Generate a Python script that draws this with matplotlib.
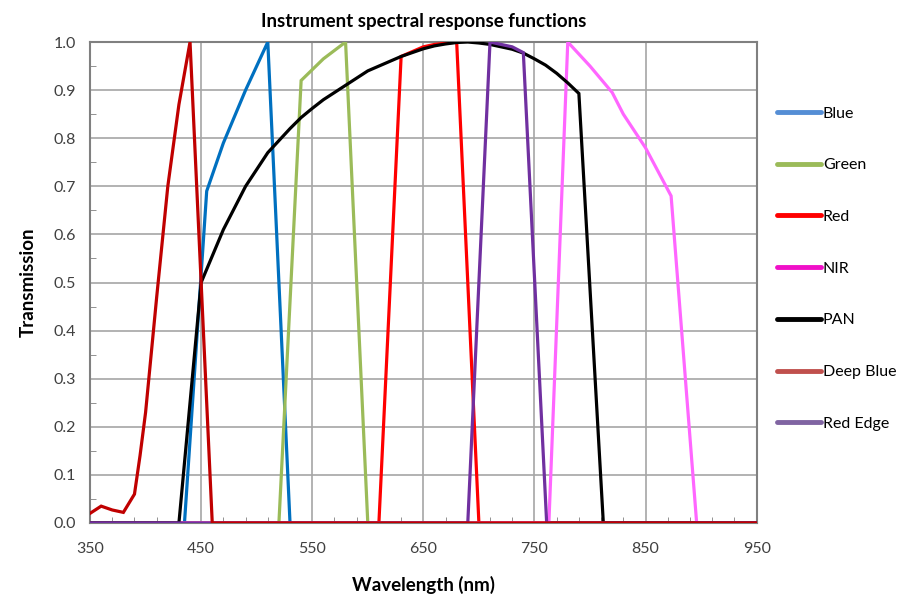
import matplotlib
matplotlib.use("Agg")
import matplotlib.pyplot as plt
from matplotlib.lines import Line2D
from matplotlib.ticker import FixedLocator, MultipleLocator, FormatStrFormatter

plt.rcParams['font.family'] = ['Lato', 'DejaVu Sans']

# wavelength (nm) / transmission pairs
blue_x = [350, 435, 455, 470, 480, 490, 500, 510, 530, 950]
blue_y = [0.0, 0.0, 0.69, 0.79, 0.845, 0.9, 0.95, 1.0, 0.0, 0.0]

green_x = [350, 520, 540, 560, 580, 600, 950]
green_y = [0.0, 0.0, 0.92, 0.965, 1.0, 0.0, 0.0]

red_x = [350, 610, 630, 640, 650, 660, 680, 700, 950]
red_y = [0.0, 0.0, 0.97, 0.98, 0.99, 0.995, 1.0, 0.0, 0.0]

nir_x = [350, 763, 780, 800, 820, 830, 850, 873, 896, 950]
nir_y = [0.0, 0.0, 1.0, 0.95, 0.895, 0.85, 0.78, 0.68, 0.0, 0.0]

pan_x = [350, 430, 450, 460, 470, 480, 490, 500, 510, 520, 530, 540, 550,
         560, 570, 580, 590, 600, 610, 620, 630, 640, 650, 660, 670, 680,
         690, 700, 710, 720, 730, 740, 750, 760, 770, 780, 790, 812, 950]
pan_y = [0.0, 0.0, 0.5, 0.555, 0.61, 0.655, 0.70, 0.735, 0.77, 0.795, 0.82,
         0.843, 0.862, 0.88, 0.895, 0.91, 0.925, 0.94, 0.95, 0.96, 0.97,
         0.978, 0.986, 0.992, 0.996, 0.999, 1.0, 0.998, 0.995, 0.99, 0.985,
         0.977, 0.965, 0.952, 0.935, 0.915, 0.893, 0.0, 0.0]

deep_x = [350, 360, 370, 380, 390, 395, 400, 410, 420, 430, 440, 460, 950]
deep_y = [0.02, 0.035, 0.027, 0.022, 0.06, 0.14, 0.23, 0.47, 0.70, 0.87,
          1.0, 0.0, 0.0]

edge_x = [350, 690, 710, 720, 730, 740, 761, 950]
edge_y = [0.0, 0.0, 1.0, 0.995, 0.99, 0.978, 0.0, 0.0]

names = ["Blue", "Green", "Red", "NIR", "PAN", "Deep Blue", "Red Edge"]
line_colors = ["#0070C0", "#9BBB59", "#FF0000", "#FF66FF", "#000000",
               "#C00000", "#7030A0"]
legend_colors = ["#558ED5", "#9BBB59", "#FF0000", "#F010C8", "#000000",
                 "#C0504D", "#8064A2"]
x_ticks = list(range(350, 951, 100))
x_minor = list(range(350, 951, 20))

series = [(blue_x, blue_y), (green_x, green_y), (red_x, red_y),
          (nir_x, nir_y), (pan_x, pan_y), (deep_x, deep_y), (edge_x, edge_y)]
zorders = [3, 3, 3, 3, 3, 5, 4]

fig = plt.figure(figsize=(9.04, 5.97), dpi=100)
ax = fig.add_axes([0.0996, 0.124, 0.7374, 0.8056])

for (xs, ys), c, z in zip(series, line_colors, zorders):
    ax.plot(xs, ys, color=c, lw=2.3, zorder=z, solid_joinstyle='miter')

ax.set_xlim(350, 950)
ax.set_ylim(0, 1.0)
ax.xaxis.set_major_locator(FixedLocator(x_ticks))
ax.xaxis.set_minor_locator(FixedLocator(x_minor))
ax.yaxis.set_major_locator(MultipleLocator(0.1))
ax.yaxis.set_minor_locator(MultipleLocator(0.05))
ax.yaxis.set_major_formatter(FormatStrFormatter('%.1f'))
ax.grid(True, which='major', color='#A6A6A6', lw=1.2, zorder=0)
ax.set_axisbelow(True)
ax.tick_params(which='major', length=0, labelsize=11.5, colors='#404040', pad=10)
ax.tick_params(which='minor', direction='in', length=4, color='#808080')
ax.tick_params(axis='x', pad=14)
for s in ax.spines.values():
    s.set_color('#808080')
    s.set_linewidth(1.5)

ax.set_title("Instrument spectral response functions", fontsize=13.5,
             fontweight='bold', pad=11)
ax.set_ylabel("Transmission", fontsize=13.5, fontweight='bold', labelpad=12)
ax.set_xlabel("Wavelength (nm)", fontsize=13.5, fontweight='bold', labelpad=14)

handles = [Line2D([0], [0], color=c, lw=3.5, solid_capstyle='round')
           for c in legend_colors]
fig.legend(handles, names, loc='center left', bbox_to_anchor=(0.852, 0.55),
           frameon=False, fontsize=11.5, handlelength=2.8, handletextpad=0.1,
           labelspacing=2.35, borderaxespad=0)

fig.savefig("out.png", dpi=100)
